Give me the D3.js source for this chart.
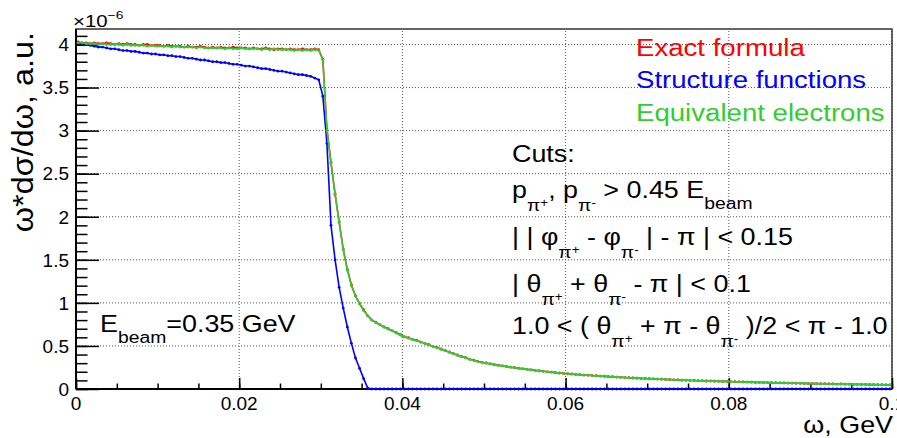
<!DOCTYPE html>
<html><head><meta charset="utf-8">
<script src="https://cdn.jsdelivr.net/npm/d3@7"></script>
<style>
body{margin:0;background:#fff}
svg{display:block}
text{font-family:"Liberation Sans",Arial,Helvetica,sans-serif;white-space:pre}
</style>
</head><body>
<svg id="c" width="897" height="438"></svg>
<script>
// ---- data (units of 1e-6), 200 bins of width 0.0005 GeV over [0, 0.1] ----
const binWidth = 0.0005;

const exactFormula = [
4.03,4.02,4.02,4.01,4.02,4.01,4.01,4.02,4.01,4.00,
4.01,4.00,4.01,4.00,4.00,3.99,4.00,4.00,3.99,3.99,
3.99,3.98,3.99,3.98,3.98,3.98,3.97,3.98,3.97,3.97,
3.98,3.97,3.96,3.97,3.96,3.97,3.96,3.96,3.97,3.96,
3.96,3.96,3.95,3.96,3.95,3.95,3.96,3.95,3.94,3.95,
3.95,3.94,3.95,3.94,3.94,3.95,3.94,3.94,3.95,3.94,
3.83,3.02,2.63,2.26,1.94,1.62,1.39,1.21,1.08,0.99,
0.92,0.85,0.80,0.775,0.745,0.72,0.70,0.675,0.655,0.63,
0.605,0.595,0.575,0.565,0.545,0.53,0.515,0.495,0.48,0.465,
0.445,0.43,0.41,0.395,0.375,0.365,0.345,0.335,0.32,0.31,
0.302,0.292,0.283,0.277,0.268,0.262,0.253,0.248,0.241,0.234,
0.229,0.222,0.217,0.21,0.206,0.2,0.196,0.19,0.186,0.181,
0.177,0.174,0.169,0.167,0.162,0.16,0.156,0.154,0.15,0.148,
0.144,0.142,0.138,0.136,0.133,0.131,0.128,0.126,0.123,0.122,
0.119,0.118,0.115,0.114,0.111,0.11,0.107,0.106,0.103,0.102,
0.099,0.099,0.096,0.096,0.093,0.093,0.09,0.09,0.088,0.088,
0.085,0.085,0.083,0.082,0.08,0.08,0.077,0.077,0.075,0.075,
0.073,0.073,0.071,0.071,0.069,0.069,0.067,0.067,0.065,0.064,
0.062,0.062,0.061,0.061,0.059,0.059,0.057,0.058,0.056,0.056,
0.054,0.054,0.053,0.053,0.051,0.051,0.05,0.05,0.048,0.048
];

const structureFunctions = [
4.02,4.01,4.00,3.99,3.98,3.97,3.97,3.96,3.95,3.95,
3.94,3.93,3.93,3.92,3.92,3.91,3.90,3.90,3.89,3.89,
3.88,3.88,3.87,3.87,3.86,3.86,3.85,3.84,3.84,3.83,
3.82,3.82,3.81,3.80,3.80,3.79,3.79,3.78,3.77,3.77,
3.76,3.75,3.75,3.74,3.73,3.72,3.72,3.71,3.70,3.69,
3.69,3.68,3.67,3.66,3.65,3.65,3.64,3.63,3.61,3.59,
3.40,2.85,1.90,1.50,1.18,0.94,0.72,0.53,0.36,0.24,
0.12,0.01,0,0,0,0,0,0,0,0,
0,0,0,0,0,0,0,0,0,0,0,0,0,0,0,0,0,0,0,0,
0,0,0,0,0,0,0,0,0,0,0,0,0,0,0,0,0,0,0,0,
0,0,0,0,0,0,0,0,0,0,0,0,0,0,0,0,0,0,0,0,
0,0,0,0,0,0,0,0,0,0,0,0,0,0,0,0,0,0,0,0,
0,0,0,0,0,0,0,0,0,0,0,0,0,0,0,0,0,0,0,0,
0,0,0,0,0,0,0,0,0,0,0,0,0,0,0,0,0,0,0,0
];

const equivalentElectrons = [
4.02,4.02,4.01,4.01,4.01,4.00,4.01,4.00,4.00,4.00,
4.00,3.99,4.00,3.99,3.99,3.99,3.99,3.98,3.99,3.98,
3.98,3.98,3.98,3.97,3.98,3.97,3.97,3.97,3.97,3.96,
3.97,3.96,3.96,3.96,3.96,3.96,3.95,3.96,3.95,3.95,
3.96,3.95,3.95,3.95,3.95,3.94,3.95,3.94,3.95,3.94,
3.94,3.94,3.94,3.93,3.94,3.93,3.94,3.93,3.94,3.93,
3.82,3.00,2.62,2.27,1.93,1.62,1.38,1.20,1.08,0.99,
0.91,0.85,0.80,0.77,0.745,0.72,0.695,0.675,0.65,0.625,
0.605,0.59,0.575,0.56,0.545,0.53,0.51,0.495,0.48,0.46,
0.445,0.425,0.41,0.39,0.375,0.36,0.345,0.33,0.32,0.31,
0.30,0.29,0.283,0.275,0.268,0.26,0.253,0.247,0.24,0.234,
0.228,0.222,0.216,0.21,0.205,0.2,0.195,0.19,0.185,0.18,
0.177,0.173,0.169,0.166,0.162,0.159,0.156,0.153,0.15,0.147,
0.144,0.141,0.138,0.135,0.133,0.13,0.128,0.125,0.123,0.121,
0.119,0.117,0.115,0.113,0.111,0.109,0.107,0.105,0.103,0.101,
0.099,0.098,0.096,0.095,0.093,0.092,0.09,0.089,0.088,0.087,
0.085,0.084,0.083,0.081,0.08,0.079,0.077,0.076,0.075,0.074,
0.073,0.072,0.071,0.07,0.069,0.068,0.067,0.066,0.065,0.063,
0.062,0.061,0.061,0.06,0.059,0.058,0.057,0.057,0.056,0.055,
0.054,0.053,0.053,0.052,0.051,0.05,0.05,0.049,0.048,0.047
];

const xTicks = [0, 0.02, 0.04, 0.06, 0.08, 0.1];
const xTickLabels = ["0", "0.02", "0.04", "0.06", "0.08", "0.1"];
const yTicks = [0, 0.5, 1, 1.5, 2, 2.5, 3, 3.5, 4];
const yTickLabels = ["0", "0.5", "1", "1.5", "2", "2.5", "3", "3.5", "4"];
const legendLabels = ["Exact formula", "Structure functions", "Equivalent electrons"];
const seriesColors = ["#ff0000", "#0000ff", "#33cc33"];

// ---- layout ----
const L = 76, R = 892, T = 29, B = 389;
const svg = d3.select("#c");
const x = d3.scaleLinear().domain([0, 0.1]).range([L, R]);
const y = d3.scaleLinear().domain([0, 4.18]).range([B, T]);

// grid
const grid = svg.append("g").attr("stroke", "#555").attr("stroke-width", 1).attr("stroke-dasharray", "1,2");
xTicks.filter(d => d > 0).forEach(d => grid.append("line").attr("x1", x(d)).attr("x2", x(d)).attr("y1", B).attr("y2", T));
yTicks.filter(d => d > 0).forEach(d => grid.append("line").attr("x1", L).attr("x2", R).attr("y1", y(d)).attr("y2", y(d)));

// frame
svg.append("rect").attr("x", L).attr("y", T).attr("width", R - L).attr("height", B - T)
  .attr("fill", "none").attr("stroke", "#333").attr("stroke-width", 1.5);

// axes with d3 axis generators (inner ticks)
const xMinor = d3.range(0, 0.1 + 1e-9, 0.005);
const yMinor = d3.range(0, 4.18, 0.1);
const xAxisMinor = d3.axisTop(x).tickValues(xMinor).tickSize(5.5).tickFormat("");
const xAxisMajor = d3.axisTop(x).tickValues(xTicks).tickSize(11).tickFormat("");
const yAxisMinor = d3.axisRight(y).tickValues(yMinor).tickSize(11.5).tickFormat("");
const yAxisMajor = d3.axisRight(y).tickValues(yTicks).tickSize(23).tickFormat("");
[xAxisMinor, xAxisMajor].forEach(a => {
  const g = svg.append("g").attr("transform", `translate(0,${B})`).call(a);
  g.select(".domain").remove();
  g.selectAll("line").attr("stroke", "#000").attr("stroke-width", 1.5);
});
[yAxisMinor, yAxisMajor].forEach(a => {
  const g = svg.append("g").attr("transform", `translate(${L},0)`).call(a);
  g.select(".domain").remove();
  g.selectAll("line").attr("stroke", "#000").attr("stroke-width", 1.5);
});
svg.append("line").attr("x1", L).attr("x2", R).attr("y1", B).attr("y2", B).attr("stroke", "#000").attr("stroke-width", 2);
svg.append("line").attr("x1", L).attr("x2", L).attr("y1", T).attr("y2", B).attr("stroke", "#000").attr("stroke-width", 2);

// tick labels
xTicks.forEach((d, i) => svg.append("text").attr("x", x(d)).attr("y", 410).attr("text-anchor", "middle")
  .attr("font-size", 19).attr("fill", "#000").text(xTickLabels[i]));
yTicks.forEach((d, i) => svg.append("text").attr("x", 69).attr("y", y(d) + 6.8).attr("text-anchor", "end")
  .attr("font-size", 19).attr("fill", "#000").text(yTickLabels[i]));

// rich text helper
function rich(px, py, size, sx, parts, color, anchor, rot) {
  const g = svg.append("g").attr("transform", `translate(${px},${py})${rot ? ` rotate(${rot})` : ""} scale(${sx},1)`);
  const t = g.append("text").attr("x", 0).attr("y", 0).attr("font-size", size).attr("fill", color || "#000");
  if (anchor) t.attr("text-anchor", anchor);
  let cur = 0;
  parts.forEach(p => {
    const [str, shift, sc] = typeof p === "string" ? [p, 0, 1] : p;
    t.append("tspan").attr("dy", shift - cur).attr("font-size", size * sc).text(str);
    cur = shift;
  });
  return t;
}

// exponent label
rich(73, 26.5, 17, 1.2, ["×10", ["−6", -7.5, 0.68]]);

// axis titles
rich(893, 433, 24, 1.12, ["ω, GeV"], "#000", "end");
rich(33, 32, 30, 1.08, ["ω*dσ/dω, a.u."], "#000", "end", -90);

// curves
const series = [exactFormula, structureFunctions, equivalentElectrons];
const line = d3.line().x(d => x(d[0])).y(d => y(d[1]));
series.forEach((vals, k) => {
  const pts = vals.map((v, i) => [(i + 0.5) * binWidth, v]);
  const g = svg.append("g");
  g.append("path").attr("d", line(pts)).attr("fill", "none").attr("stroke", seriesColors[k]).attr("stroke-width", 1.6);
  g.selectAll("circle").data(pts).join("circle").attr("cx", d => x(d[0])).attr("cy", d => y(d[1]))
    .attr("r", 1.4).attr("fill", seriesColors[k]);
});

// legend
const legendY = [56, 88, 121];
legendLabels.forEach((s, i) => rich(636, legendY[i], 24.5, 1.127, [s], seriesColors[i]));

// cuts
const SUB = 13, SUP = 9, SS = 0.72, PS = 0.5;
const piPlus = [["π", SUB, SS], ["+", SUP, PS]];
const piMinus = [["π", SUB, SS], ["-", SUP, PS]];
const cutsLines = [
  { y: 162, parts: ["Cuts:"] },
  { y: 198, parts: ["p", ...piPlus, [", p", 0, 1], ...piMinus, [" > 0.45 E", 0, 1], ["beam", 11, SS]] },
  { y: 245, parts: ["| | φ", ...piPlus, [" - φ", 0, 1], ...piMinus, [" | - π | < 0.15", 0, 1]] },
  { y: 292, parts: ["| θ", ...piPlus, [" + θ", 0, 1], ...piMinus, [" - π | < 0.1", 0, 1]] },
  { y: 334, parts: ["1.0 < ( θ", ...piPlus, [" + π - θ", 0, 1], ...piMinus, [" )/2 < π - 1.0", 0, 1]] }
];
cutsLines.forEach(l => rich(512, l.y, 24, 1.12, l.parts));

// beam energy
rich(100, 332, 24, 1.12, ["E", ["beam", 11, 0.72], ["=0.35 GeV", 0, 1]]);
</script>
</body></html>
